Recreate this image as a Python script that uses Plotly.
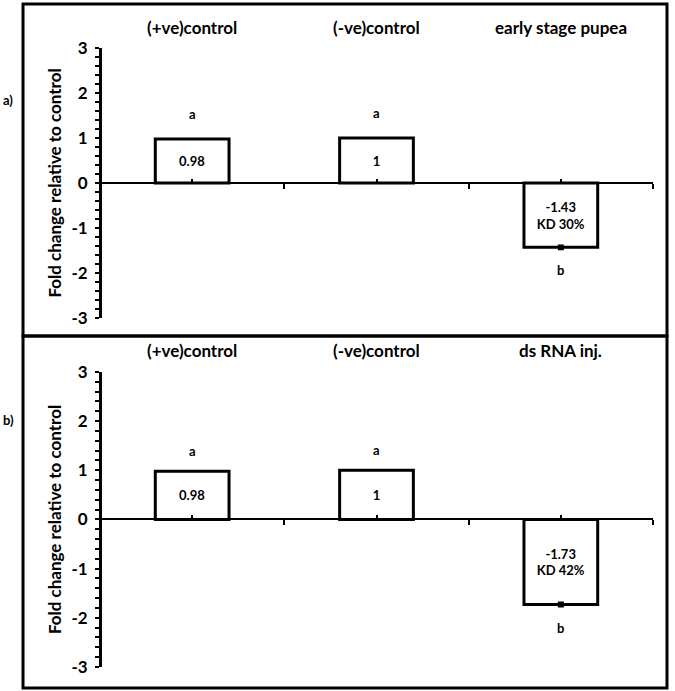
import plotly.graph_objects as go

# ---- data ----
positions = [0, 1, 2]
categories_a = ["(+ve)control", "(-ve)control", "early stage pupea"]
categories_b = ["(+ve)control", "(-ve)control", "ds RNA inj."]
values_a = [0.98, 1.0, -1.43]
values_b = [0.98, 1.0, -1.73]
errors_a = [None, None, 0.03]
errors_b = [None, None, 0.03]
bar_text_a = ["0.98", "1", "-1.43<br>KD 30%"]
bar_text_b = ["0.98", "1", "-1.73<br>KD 42%"]
letters_a = ["a", "a", "b"]
letters_b = ["a", "a", "b"]
panel_labels = ["a)", "b)"]
y_title = "Fold change relative to control"
y_ticks = [-3, -2, -1, 0, 1, 2, 3]
y_tick_labels = ["-3", "-2", "-1", "0", "1", "2", "3"]

FONT = "Lato"
dom_a = [0.5638, 1.0]
dom_b = [0.0, 0.4766]

fig = go.Figure()

for vals, errs, texts, xa, ya in [
    (values_a, errors_a, bar_text_a, "x", "y"),
    (values_b, errors_b, bar_text_b, "x2", "y2"),
]:
    # bars without error bars and bars with error bars as separate traces
    for with_err in (False, True):
        idx = [i for i, e in enumerate(errs) if (e is not None) == with_err]
        if not idx:
            continue
        kw = {}
        if with_err:
            kw["error_y"] = dict(type="data", array=[errs[i] for i in idx],
                                 visible=True, color="black", thickness=3, width=3)
        fig.add_trace(go.Bar(
            x=[positions[i] for i in idx], y=[vals[i] for i in idx], width=0.4,
            marker=dict(color="white", line=dict(color="black", width=3)),
            text=[texts[i] for i in idx], textposition="inside",
            insidetextanchor="middle", constraintext="none",
            textfont=dict(family=FONT, size=13, color="black", weight="bold"),
            showlegend=False, xaxis=xa, yaxis=ya, hoverinfo="skip", **kw,
        ))

def xaxis_cfg(dom):
    return dict(
        range=[-0.5, 2.5], anchor="free", position=(dom[0] + dom[1]) / 2,
        showline=True, linecolor="black", linewidth=2,
        showgrid=False, zeroline=False, showticklabels=False,
        tickmode="array", tickvals=[-0.5, 0.5, 1.5, 2.5],
        ticks="outside", ticklen=5, tickwidth=2, tickcolor="black",
        minor=dict(tickmode="array", tickvals=positions, ticks="inside",
                   ticklen=3, tickwidth=2, tickcolor="black"),
        fixedrange=True,
    )

def yaxis_cfg(dom):
    return dict(
        domain=dom, range=[-3, 3], anchor="free", position=0,
        showline=True, linecolor="black", linewidth=3,
        showgrid=False, zeroline=False,
        tickmode="array", tickvals=y_ticks, ticktext=y_tick_labels,
        ticks="outside", ticklen=4, tickwidth=2, tickcolor="black",
        ticklabelstandoff=4,
        minor=dict(dtick=0.2, tick0=0, ticks="outside", ticklen=4,
                   tickwidth=2, tickcolor="black"),
        tickfont=dict(family=FONT, size=17, color="black", weight="bold"),
        title=dict(text=y_title, standoff=4,
                   font=dict(family=FONT, size=17, color="black", weight="bold")),
        fixedrange=True,
    )

def overlay_cfg(over):
    return dict(overlaying=over, range=[-3, 3], anchor="free", position=0,
                side="left",
                showticklabels=False, showline=False, showgrid=False,
                zeroline=False, tickmode="array", tickvals=y_ticks,
                ticks="inside", ticklen=5, tickwidth=2, tickcolor="black",
                fixedrange=True)

fig.update_layout(
    width=675, height=691,
    margin=dict(l=100, r=22, t=48, b=24),
    paper_bgcolor="white", plot_bgcolor="white",
    barmode="overlay",
    xaxis=xaxis_cfg(dom_a),
    yaxis=yaxis_cfg(dom_a),
    xaxis2=xaxis_cfg(dom_b),
    yaxis2=yaxis_cfg(dom_b),
    yaxis3=overlay_cfg("y"),
    yaxis4=overlay_cfg("y2"),
)

annotations = []
for cats, vals, letters, xa, ya, up_shift in [
    (categories_a, values_a, letters_a, "x", "y", 25),
    (categories_b, values_b, letters_b, "x2", "y2", 20),
]:
    for p, c, v, l in zip(positions, cats, vals, letters):
        annotations.append(dict(
            x=p, y=1, xref=xa, yref=f"{ya} domain", text=c, showarrow=False,
            yanchor="middle", yshift=21,
            font=dict(family=FONT, size=17, color="black", weight="bold")))
        annotations.append(dict(
            x=p, y=v, xref=xa, yref=ya, text=l, showarrow=False,
            yanchor="middle", yshift=up_shift if v > 0 else -23,
            font=dict(family=FONT, size=13, color="black", weight="bold")))

for lab, yp in zip(panel_labels, [0.916, 0.399]):
    annotations.append(dict(
        x=-0.166, y=yp, xref="paper", yref="paper", text=lab, showarrow=False,
        xanchor="center", yanchor="middle",
        font=dict(family=FONT, size=13, color="black", weight="bold")))

fig.update_layout(annotations=annotations)

# panel frames
fig.add_shape(type="rect", xref="paper", yref="paper",
              x0=-0.1392, x1=1.0253, y0=0.5347, y1=1.0711,
              line=dict(color="black", width=3), fillcolor="rgba(0,0,0,0)")
fig.add_shape(type="rect", xref="paper", yref="paper",
              x0=-0.1392, x1=1.0253, y0=-0.0339, y1=0.5347,
              line=dict(color="black", width=3), fillcolor="rgba(0,0,0,0)")

fig.write_html("out.html", config={"displayModeBar": False},
               post_script="document.body.style.margin='0px';")
